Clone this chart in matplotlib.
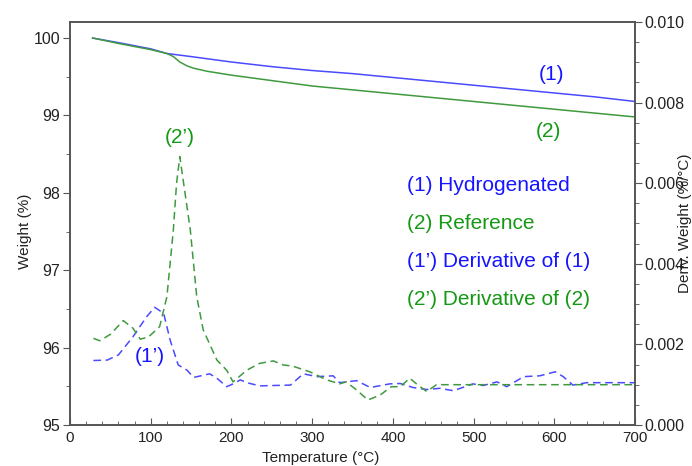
import matplotlib
matplotlib.use("Agg")
import matplotlib.pyplot as plt
from matplotlib.ticker import MultipleLocator, FormatStrFormatter

plt.rcParams['font.family'] = ['Liberation Sans', 'DejaVu Sans']

# weight curves (left axis)
temp_tg = [28, 60, 100, 120, 150, 200, 250, 300, 350, 400, 450, 500, 550, 600, 650, 700]
weight_1 = [100.0, 99.94, 99.86, 99.80, 99.76, 99.69, 99.63, 99.58, 99.54, 99.49, 99.44, 99.39, 99.34, 99.29, 99.24, 99.18]
temp_tg2 = [28, 60, 100, 120, 128, 136, 145, 153, 170, 200, 250, 300, 350, 400, 450, 500, 550, 600, 650, 700]
weight_2 = [100.0, 99.93, 99.85, 99.80, 99.76, 99.69, 99.64, 99.61, 99.57, 99.52, 99.45, 99.38, 99.33, 99.28, 99.23, 99.18, 99.13, 99.08, 99.03, 98.98]

# derivative curves (right axis)
temp_d1 = [29, 46, 60, 78, 95, 105, 116, 124, 134, 145, 153, 162, 173, 182, 194, 202, 211, 219,
           235, 252, 273, 289, 306, 326, 334, 355, 372, 396, 409, 425, 442, 458, 475, 499, 512,
           529, 541, 562, 582, 601, 611, 623, 640, 656, 700]
deriv_1 = [0.00160, 0.00161, 0.00174, 0.00219, 0.00269, 0.00292, 0.00277, 0.00211, 0.00149,
           0.00136, 0.00118, 0.00122, 0.00127, 0.00116, 0.00095, 0.00102, 0.00112, 0.00105,
           0.00097, 0.00098, 0.00099, 0.00127, 0.00120, 0.00122, 0.00105, 0.00110, 0.00093,
           0.00102, 0.00103, 0.00093, 0.00088, 0.00091, 0.00085, 0.00102, 0.00098, 0.00107,
           0.00095, 0.00120, 0.00122, 0.00132, 0.00120, 0.00099, 0.00105, 0.00105, 0.00105]
temp_d2 = [29, 37, 50, 66, 78, 87, 97, 111, 120, 128, 132, 136, 140, 149, 157, 165, 182, 194,
           202, 219, 235, 252, 264, 276, 297, 318, 334, 342, 355, 369, 384, 398, 409, 421, 431,
           442, 454, 500, 600, 700]
deriv_2 = [0.00215, 0.00209, 0.00225, 0.00259, 0.00240, 0.00213, 0.00218, 0.00244, 0.00318,
           0.00484, 0.00600, 0.00666, 0.00610, 0.00484, 0.00318, 0.00236, 0.00161, 0.00136,
           0.00107, 0.00136, 0.00153, 0.00159, 0.00149, 0.00146, 0.00132, 0.00112, 0.00102,
           0.00107, 0.00087, 0.00062, 0.00074, 0.00095, 0.00095, 0.00116, 0.00099, 0.00083,
           0.00100, 0.00100, 0.00100, 0.00100]

curve_labels = ['(1)', '(2)', '(1’)', '(2’)']
legend_labels = ['(1) Hydrogenated', '(2) Reference', '(1’) Derivative of (1)', '(2’) Derivative of (2)']

blue_line = '#4a4aff'
green_line = '#3f9a3f'
blue_text = '#1515ff'
green_text = '#159915'
axis_gray = '#555555'
label_col = '#222222'

fig = plt.figure(figsize=(6.92, 4.66), dpi=100)
ax = fig.add_axes([0.1012, 0.088, 0.8165, 0.8648])
ax2 = ax.twinx()

ax.plot(temp_tg, weight_1, color=blue_line, lw=1.1)
ax.plot(temp_tg2, weight_2, color=green_line, lw=1.1)
ax2.plot(temp_d1, deriv_1, color=blue_line, lw=1.1, ls=(0, (5, 3)))
ax2.plot(temp_d2, deriv_2, color=green_line, lw=1.1, ls=(0, (5, 3)))

ax.set_xlim(0, 700)
ax.set_ylim(95, 100.207)
ax2.set_ylim(0, 0.010)

ax.xaxis.set_major_locator(MultipleLocator(100))
ax.xaxis.set_minor_locator(MultipleLocator(20))
ax.yaxis.set_major_locator(MultipleLocator(1))
ax.yaxis.set_minor_locator(MultipleLocator(0.5))
ax2.yaxis.set_major_locator(MultipleLocator(0.002))
ax2.yaxis.set_minor_locator(MultipleLocator(0.0005))
ax2.yaxis.set_major_formatter(FormatStrFormatter('%.3f'))

ax.tick_params(axis='x', which='both', direction='in', colors=axis_gray, labelcolor=label_col, labelsize=11, pad=4)
ax.tick_params(axis='x', which='major', length=5)
ax.tick_params(axis='x', which='minor', length=3)
ax.tick_params(axis='y', which='both', direction='out', colors=axis_gray, labelcolor=label_col, labelsize=11.5, pad=2)
ax.tick_params(axis='y', which='major', length=5)
ax.tick_params(axis='y', which='minor', length=3)
ax2.tick_params(axis='y', which='both', direction='out', colors=axis_gray, labelcolor=label_col, labelsize=11.5, pad=2)
ax2.tick_params(axis='y', which='major', length=5)
ax2.tick_params(axis='y', which='minor', length=3)

for a in (ax, ax2):
    for s in a.spines.values():
        s.set_color(axis_gray)
        s.set_linewidth(1.2)

ax.set_xlabel('Temperature (°C)', fontsize=11, color=label_col)
ax.xaxis.set_label_coords(0.444, -0.064)
ax.set_ylabel('Weight (%)', fontsize=11, color=label_col)
ax.yaxis.set_label_coords(-0.067, 0.48)
ax2.set_ylabel('Deriv. Weight (%/°C)', fontsize=11, color=label_col, labelpad=-5)

ax.text(596, 99.535, curve_labels[0], color=blue_text, fontsize=15, ha='center', va='center')
ax.text(593, 98.79, curve_labels[1], color=green_text, fontsize=15, ha='center', va='center')
ax.text(99, 95.88, curve_labels[2], color=blue_text, fontsize=15, ha='center', va='center')
ax.text(136, 98.71, curve_labels[3], color=green_text, fontsize=15, ha='center', va='center')

for i, label in enumerate(legend_labels):
    c = blue_text if i % 2 == 0 else green_text
    ax.text(417, 98.10 - i * 0.495, label, color=c, fontsize=15, ha='left', va='center')

fig.savefig('out.png', dpi=100)
